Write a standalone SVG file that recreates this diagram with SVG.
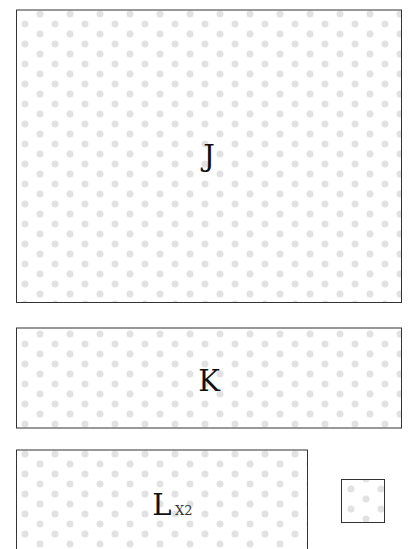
<svg xmlns="http://www.w3.org/2000/svg" width="409" height="549" viewBox="0 0 409 549">
  <defs>
    <pattern id="dots" patternUnits="userSpaceOnUse" x="0" y="0" width="30" height="20">
      <circle cx="10" cy="14" r="3.5" fill="#e2e2e4"/>
      <circle cx="25" cy="4" r="3.5" fill="#e2e2e4"/>
    </pattern>
    <pattern id="dotsL" patternUnits="userSpaceOnUse" x="0" y="10" width="30" height="20">
      <circle cx="10" cy="14" r="3.5" fill="#e2e2e4"/>
      <circle cx="25" cy="4" r="3.5" fill="#e2e2e4"/>
    </pattern>
    <pattern id="dotsS" patternUnits="userSpaceOnUse" x="-4" y="5" width="30" height="20">
      <circle cx="10" cy="14" r="3.5" fill="#e2e2e4"/>
      <circle cx="25" cy="4" r="3.5" fill="#e2e2e4"/>
    </pattern>
  </defs>
  <style>
    .box { stroke: #333333; stroke-width: 1; }
    .lbl { font-family: "DejaVu Serif", serif; font-size: 29px; fill: #111111; text-anchor: middle; }
    .sub { font-family: "DejaVu Serif", serif; font-size: 13px; fill: #333333; }
  </style>
  <rect width="409" height="549" fill="#ffffff"/>
  <g id="J">
    <rect class="box" x="16.5" y="10" width="385" height="292.5" fill="url(#dots)"/>
    <text class="lbl" x="209" y="166">J</text>
  </g>
  <g id="K">
    <rect class="box" x="16.5" y="328" width="385" height="100" fill="url(#dots)"/>
    <text class="lbl" x="209" y="391">K</text>
  </g>
  <g id="L">
    <rect class="box" x="16.5" y="450" width="291" height="110" fill="url(#dotsL)"/>
    <text class="lbl" x="162" y="515">L</text>
    <text class="sub" x="175" y="515">X2</text>
  </g>
  <g id="M">
    <rect class="box" x="341.5" y="479.5" width="43" height="43" fill="url(#dotsS)"/>
  </g>
  <g id="connectors"></g>
</svg>
